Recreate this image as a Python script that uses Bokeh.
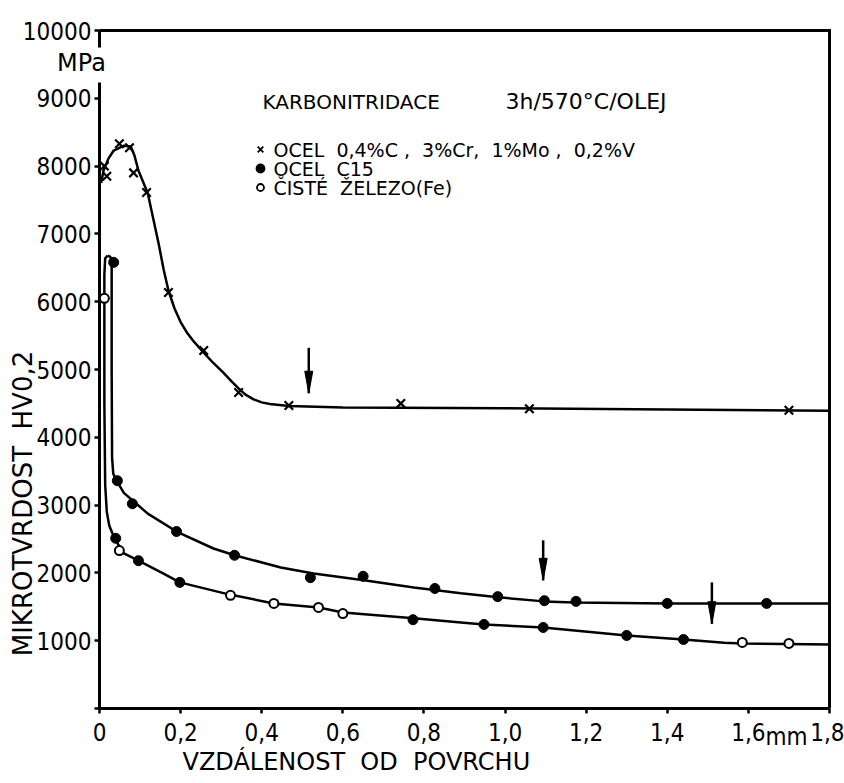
import math
from bokeh.plotting import figure
from bokeh.models import FixedTicker, Label, Range1d
from bokeh.embed import file_html
from bokeh.resources import INLINE

# ---------------- data ----------------
x_ticks = [0, 0.2, 0.4, 0.6, 0.8, 1.0, 1.2, 1.4, 1.6, 1.8]
x_tick_labels = ["0", "0,2", "0,4", "0,6", "0,8", "1,0", "1,2", "1,4", "1,6", "1,8"]
y_ticks = [0, 1000, 2000, 3000, 4000, 5000, 6000, 7000, 8000, 9000, 10000]
y_tick_labels = ["", "1000", "2000", "3000", "4000", "5000", "6000", "7000", "8000", "9000", "10000"]

# x  OCEL 0,4%C, 3%Cr, 1%Mo, 0,2%V
steel_x = [0.012, 0.018, 0.049, 0.074, 0.084, 0.116, 0.170, 0.257, 0.343, 0.467, 0.743, 1.060, 1.700]
steel_y = [8000, 7850, 8330, 8270, 7900, 7610, 6135, 5280, 4660, 4470, 4500, 4420, 4400]
steel_curve_x = [0.004, 0.010, 0.022, 0.035, 0.059, 0.077, 0.086, 0.096, 0.119, 0.146, 0.158, 0.170,
                 0.185, 0.200, 0.215, 0.230, 0.257, 0.280, 0.306, 0.325, 0.343, 0.360, 0.380, 0.400,
                 0.420, 0.467, 0.600, 1.000, 1.400, 1.800]
steel_curve_y = [7750, 7935, 8110, 8230, 8300, 8290, 8160, 7935, 7600, 6850, 6480, 6165,
                 5900, 5700, 5550, 5430, 5250, 5100, 4950, 4830, 4720, 4630, 4560, 4515,
                 4490, 4460, 4440, 4430, 4410, 4390]

# filled dots  OCEL C15
c15_x = [0.035, 0.044, 0.081, 0.190, 0.333, 0.520, 0.650, 0.827, 0.982, 1.097, 1.175, 1.400, 1.645]
c15_y = [6580, 3360, 3020, 2610, 2260, 1930, 1950, 1770, 1650, 1590, 1580, 1550, 1550]
c15_curve_x = [0.020, 0.027, 0.030, 0.030, 0.031, 0.034, 0.045, 0.060, 0.119, 0.190, 0.281, 0.333,
               0.447, 0.528, 0.652, 0.775, 0.891, 0.983, 1.096, 1.170, 1.400, 1.800]
c15_curve_y = [6680, 6660, 6550, 5000, 3700, 3460, 3330, 3180, 2875, 2610, 2360, 2260,
               2080, 1990, 1890, 1785, 1700, 1640, 1580, 1565, 1550, 1550]

# open circles  CISTE ZELEZO (Fe) - lower curve (some marks print as filled)
iron_open_x = [0.012, 0.049, 0.323, 0.430, 0.540, 0.600, 1.585, 1.700]
iron_open_y = [6050, 2330, 1670, 1550, 1490, 1400, 975, 960]
iron_filled_x = [0.040, 0.096, 0.198, 0.773, 0.948, 1.094, 1.300, 1.440]
iron_filled_y = [2510, 2180, 1860, 1310, 1240, 1195, 1077, 1018]
iron_curve_x = [0.020, 0.014, 0.012, 0.012, 0.014, 0.018, 0.024, 0.032, 0.040, 0.059, 0.096, 0.158,
                0.198, 0.321, 0.430, 0.541, 0.600, 0.775, 0.891, 0.948, 1.094, 1.300, 1.440, 1.540,
                1.585, 1.800]
iron_curve_y = [6680, 6640, 6400, 4500, 3300, 2900, 2700, 2580, 2480, 2290, 2180, 1990,
                1860, 1680, 1550, 1490, 1415, 1330, 1270, 1240, 1195, 1077, 1018, 970,
                960, 945]

# arrows marking case depth
arrow_x = [0.516, 1.094, 1.510]
arrow_top = [5320, 2480, 1860]
arrow_bottom = [4650, 1890, 1250]

# ---------------- figure ----------------
W, H = 844, 783
FL, FR, FT, FB = 99, 829, 30, 708          # where the axes box sits on the page
sx = (FR - FL) / (x_ticks[-1] - x_ticks[0])
sy = (FB - FT) / (y_ticks[-1] - y_ticks[0])

NARROW = "'Liberation Sans Narrow', 'DejaVu Sans Condensed', sans-serif"
WIDE = "DejaVu Sans"

p = figure(width=W, height=H, output_backend="svg", toolbar_location=None, title=None,
           x_range=Range1d(-FL / sx, x_ticks[-1] + (W - FR) / sx),
           y_range=Range1d(-(H - FB) / sy, y_ticks[-1] + FT / sy),
           min_border=0)
p.grid.visible = False
p.background_fill_color = "white"
p.border_fill_color = "white"
p.outline_line_color = None

for ax in (p.xaxis[0], p.yaxis[0]):
    ax.fixed_location = 0
    ax.axis_line_width = 3
    ax.axis_line_color = "black"
    ax.major_tick_line_width = 2.5
    ax.major_tick_in = 0
    ax.major_tick_out = 5
    ax.minor_tick_line_color = None
    ax.major_label_text_font = NARROW
    ax.major_label_text_font_size = "24px"
    ax.major_label_text_color = "black"

p.xaxis.ticker = FixedTicker(ticks=x_ticks)
p.xaxis.bounds = (x_ticks[0], x_ticks[-1])
p.xaxis.major_label_overrides = dict(zip(x_ticks, x_tick_labels))
p.xaxis.major_label_standoff = 9
p.yaxis.ticker = FixedTicker(ticks=y_ticks)
p.yaxis.bounds = (y_ticks[0], y_ticks[-1])
p.yaxis.major_label_overrides = dict(zip(y_ticks, y_tick_labels))
p.yaxis.major_label_standoff = 3
p.yaxis.axis_line_color = None

# frame: left axis line broken for the "MPa" unit, top and right borders
p.segment(x0=[x_ticks[0], x_ticks[0]], y0=[y_ticks[0], y_ticks[-1]],
          x1=[x_ticks[0], x_ticks[0]], y1=[y_ticks[-1] - 52 / sy, y_ticks[-1] - 17 / sy],
          line_color="black", line_width=3)
p.line([x_ticks[0], x_ticks[-1], x_ticks[-1]], [y_ticks[-1], y_ticks[-1], y_ticks[0]],
       line_color="black", line_width=3, line_join="miter")

# curves
p.line(steel_curve_x, steel_curve_y, line_color="black", line_width=2.5)
p.line(c15_curve_x, c15_curve_y, line_color="black", line_width=2.5)
p.line(iron_curve_x, iron_curve_y, line_color="black", line_width=2.5)

# markers
p.scatter(steel_x, steel_y, marker="x", size=12, line_color="black", line_width=2.2)
p.scatter(c15_x, c15_y, marker="circle", size=10, fill_color="black", line_color="black")
p.scatter(iron_filled_x, iron_filled_y, marker="circle", size=10, fill_color="black", line_color="black")
p.scatter(iron_open_x, iron_open_y, marker="circle", size=9, fill_color="white", line_color="black",
          line_width=2)

# arrows: shaft + narrow head
p.segment(x0=arrow_x, y0=arrow_top, x1=arrow_x, y1=arrow_bottom, line_color="black", line_width=2.5)
head_xs = [[x - 4 / sx, x + 4 / sx, x] for x in arrow_x]
head_ys = [[yb + 22 / sy, yb + 22 / sy, yb] for yb in arrow_bottom]
p.patches(head_xs, head_ys, fill_color="black", line_color="black", line_width=1)


def px2x(px):
    return (px - FL) / sx


def px2y(py):
    return (FB - py) / sy


def lab(text, px, py, font, size, align="left", angle=0.0, baseline="middle"):
    p.add_layout(Label(x=px2x(px), y=px2y(py), text=text, text_font=font, text_font_size=size,
                       text_color="black", text_align=align, text_baseline=baseline, angle=angle))


NB = "\u00a0"
lab("KARBONITRIDACE", 262, 101, WIDE, "20px")
lab("3h/570°C/OLEJ", 505, 101, WIDE, "22px")
lab("OCEL" + NB * 2 + "0,4%C" + NB + "," + NB * 2 + "3%Cr," + NB * 2 + "1%Mo" + NB + "," + NB * 2 + "0,2%V",
    273, 149, WIDE, "19px")
lab("OCEL" + NB * 2 + "C15", 273, 168, WIDE, "19px")
lab("ČISTÉ" + NB * 2 + "ŽELEZO(Fe)", 273, 187, WIDE, "19px")
p.scatter([px2x(260)] * 3, [px2y(149), px2y(168), px2y(187)],
          marker=["x", "circle", "circle"], size=[8, 8, 7],
          fill_color=["black", "black", "white"], line_color="black", line_width=1.8)

lab("MPa", 81, 62, WIDE, "24px", align="center")
lab("mm", 765, 736, NARROW, "24px", baseline="alphabetic")
lab("VZDÁLENOST" + NB * 2 + "OD" + NB * 2 + "POVRCHU", 182, 761, WIDE, "24px")
lab("MIKROTVRDOST" + NB * 2 + "HV0,2", 22, 503, WIDE, "26px", align="center", angle=math.pi / 2)

open("out.html", "w").write(file_html(p, INLINE))
